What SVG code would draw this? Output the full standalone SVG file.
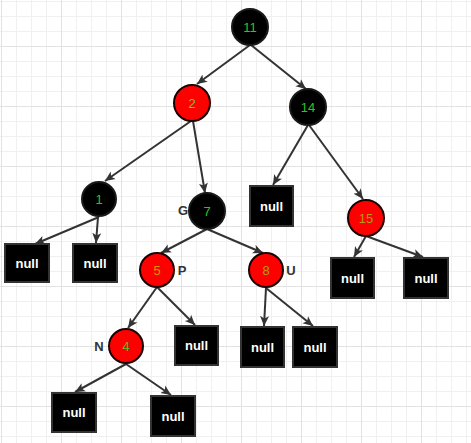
<svg xmlns="http://www.w3.org/2000/svg" width="471" height="443" viewBox="0 0 471 443">
<style>
.grid-minor{stroke:#f0f0f0;stroke-width:1;fill:none}
.grid-major{stroke:#e2e2e2;stroke-width:1;fill:none}
.edge{stroke:#333333;stroke-width:2;fill:none;marker-end:url(#arrow)}
.blk{fill:#000000;stroke:#1a1a1a;stroke-width:2}
.red{fill:#ff0000;stroke:#1a0000;stroke-width:2}
.box{fill:#000000;stroke:#333333;stroke-width:2}
.num{font-family:"Liberation Sans",Arial,sans-serif;font-size:13px;text-anchor:middle;dominant-baseline:central}
.null{font-family:"Liberation Sans",Arial,sans-serif;font-size:13px;font-weight:bold;fill:#ffffff;text-anchor:middle;dominant-baseline:central}
.lbl{font-family:"Liberation Sans",Arial,sans-serif;font-size:13px;font-weight:bold;fill:#333333;text-anchor:middle;dominant-baseline:central}
</style>
<defs>
<pattern id="gminor" width="15" height="15" patternUnits="userSpaceOnUse" x="1" y="1">
<path d="M0.5,0 V15 M0,0.5 H15" class="grid-minor"/>
</pattern>
<pattern id="gmajor" width="60" height="60" patternUnits="userSpaceOnUse" x="1" y="46">
<path d="M0.5,0 V60 M0,0.5 H60" class="grid-major"/>
</pattern>
<marker id="arrow" viewBox="0 0 10 10" refX="10" refY="5" markerWidth="10" markerHeight="10" markerUnits="userSpaceOnUse" orient="auto">
<path d="M0,0.5 L10,5 L0,9.5 L2.5,5 z" fill="#333333"/>
</marker>
</defs>
<rect width="471" height="443" fill="#ffffff"/>
<rect width="471" height="443" fill="url(#gminor)"/>
<rect width="471" height="443" fill="url(#gmajor)"/>

<g id="connectors">
<line class="edge" x1="250" y1="45" x2="197" y2="84"/>
<line class="edge" x1="251" y1="45" x2="306" y2="89"/>
<line class="edge" x1="191" y1="121" x2="105" y2="181"/>
<line class="edge" x1="193" y1="121" x2="205" y2="193"/>
<line class="edge" x1="99" y1="217" x2="35" y2="244"/>
<line class="edge" x1="98" y1="217" x2="96" y2="243"/>
<line class="edge" x1="207" y1="229" x2="161" y2="253"/>
<line class="edge" x1="207" y1="229" x2="263" y2="253"/>
<line class="edge" x1="157" y1="287" x2="128" y2="328"/>
<line class="edge" x1="157" y1="287" x2="195" y2="325"/>
<line class="edge" x1="266" y1="288" x2="264" y2="326"/>
<line class="edge" x1="266" y1="288" x2="313" y2="326"/>
<line class="edge" x1="126" y1="364" x2="75" y2="392"/>
<line class="edge" x1="126" y1="364" x2="171" y2="395"/>
<line class="edge" x1="308" y1="125" x2="273" y2="185"/>
<line class="edge" x1="309" y1="125" x2="363" y2="199"/>
<line class="edge" x1="366" y1="236" x2="354" y2="257"/>
<line class="edge" x1="366" y1="236" x2="423" y2="257"/>
</g>

<g id="n11"><circle class="blk" cx="250" cy="27" r="18"/><text class="num" x="250" y="27" fill="#22cc22">11</text></g>
<g id="n2"><circle class="red" cx="192" cy="103" r="18"/><text class="num" x="192" y="103" fill="#99bb22">2</text></g>
<g id="n14"><circle class="blk" cx="308" cy="107" r="18"/><text class="num" x="308" y="107" fill="#22cc22">14</text></g>
<g id="n1"><circle class="blk" cx="99" cy="199" r="17"/><text class="num" x="99" y="199" fill="#22cc22">1</text></g>
<g id="n7"><circle class="blk" cx="207" cy="211" r="18"/><text class="num" x="207" y="211" fill="#22cc22">7</text><text class="lbl" x="183" y="210">G</text></g>
<g id="n5"><circle class="red" cx="157" cy="270" r="17"/><text class="num" x="157" y="270" fill="#cc9900">5</text><text class="lbl" x="182" y="270">P</text></g>
<g id="n8"><circle class="red" cx="266" cy="270" r="17"/><text class="num" x="266" y="270" fill="#bb9911">8</text><text class="lbl" x="291" y="270">U</text></g>
<g id="n4"><circle class="red" cx="126" cy="346" r="17"/><text class="num" x="126" y="346" fill="#55bb22">4</text><text class="lbl" x="99" y="346">N</text></g>
<g id="n15"><circle class="red" cx="366" cy="218" r="18"/><text class="num" x="366" y="218" fill="#bb9911">15</text></g>

<g id="null1a"><rect class="box" x="5" y="244" width="44" height="38"/><text class="null" x="27" y="263">null</text></g>
<g id="null1b"><rect class="box" x="73" y="244" width="44" height="38"/><text class="null" x="95" y="263">null</text></g>
<g id="null14"><rect class="box" x="250" y="186" width="43" height="40"/><text class="null" x="271.5" y="206">null</text></g>
<g id="null15a"><rect class="box" x="331" y="258" width="43" height="40"/><text class="null" x="352.5" y="278">null</text></g>
<g id="null15b"><rect class="box" x="404" y="258" width="44" height="40"/><text class="null" x="426" y="278">null</text></g>
<g id="null5"><rect class="box" x="175" y="326" width="43" height="39"/><text class="null" x="196.5" y="345.5">null</text></g>
<g id="null8a"><rect class="box" x="241" y="327" width="43" height="40"/><text class="null" x="262.5" y="347">null</text></g>
<g id="null8b"><rect class="box" x="293" y="327" width="44" height="40"/><text class="null" x="315" y="347">null</text></g>
<g id="null4a"><rect class="box" x="52" y="393" width="44" height="39"/><text class="null" x="74" y="412.5">null</text></g>
<g id="null4b"><rect class="box" x="151" y="396" width="44" height="40"/><text class="null" x="173" y="416">null</text></g>
</svg>
